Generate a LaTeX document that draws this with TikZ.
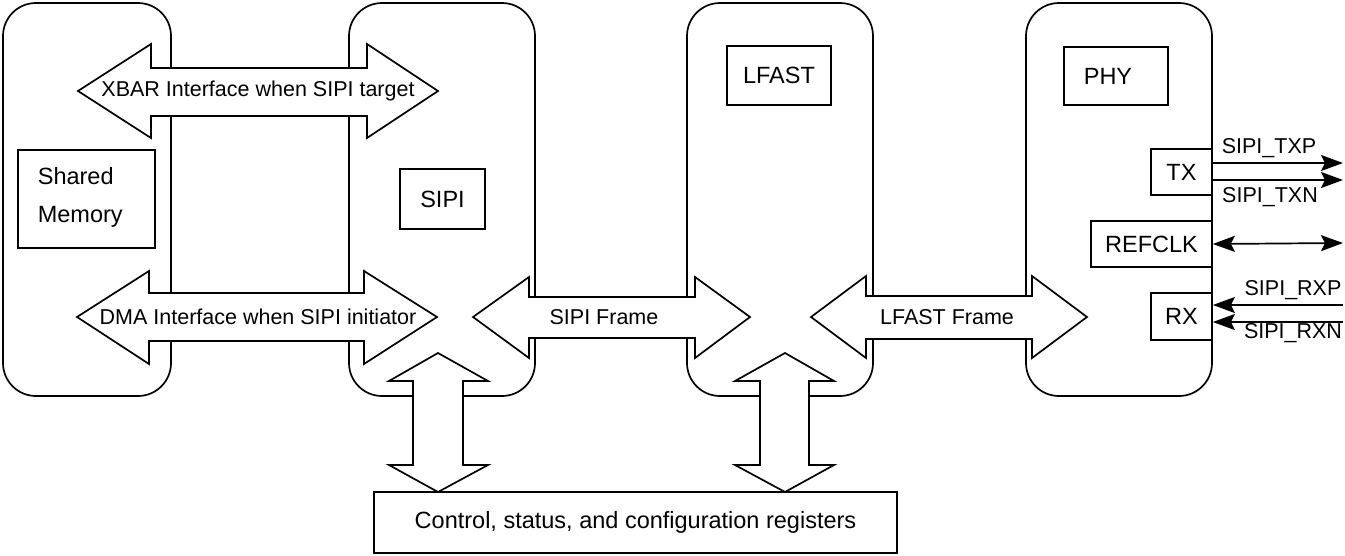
\documentclass[tikz,border=0pt]{standalone}
\usepackage{fontspec}
\setmainfont{Liberation Sans}
\usetikzlibrary{arrows.meta}
\begin{document}
\begin{tikzpicture}[x=1pt,y=-1pt,line width=1.7pt,
  every node/.style={font=\fontsize{21.5}{25}\selectfont, inner sep=0pt},
  big/.style={font=\fontsize{23.5}{28}\selectfont},
  block/.style={draw, rounded corners=33pt, minimum width=186pt, minimum height=393pt},
  lbl/.style={draw, minimum width=#1, big},
  bigarrow/.style={draw, fill=white, line join=miter},
  sig/.style={-{Stealth[length=22pt,width=16pt,inset=4pt]}},
  sigboth/.style={{Stealth[length=22pt,width=16pt,inset=4pt]}-{Stealth[length=22pt,width=16pt,inset=4pt]}}
]
\useasboundingbox (0,0) rectangle (1345,555);
% outer blocks
\node[block, minimum width=168pt] (memblk) at (87,199.5) {};
\node[block] (sipiblk) at (442,199.5) {};
\node[block] (lfastblk) at (780,199.5) {};
\node[block] (phyblk) at (1119,199.5) {};
% inner label boxes
\node[lbl=137pt, minimum height=98pt] (shm) at (86.5,199) {};
\node[anchor=west, align=left, font=\fontsize{23.5}{38}\selectfont] (shmtxt) at (37,197) {Shared\\Memory};
\node[lbl=85pt, minimum height=60pt] (sipi) at (442.5,199) {SIPI};
\node[lbl=104pt, minimum height=59pt] (lfast) at (779,75.5) {LFAST};
\node[lbl=104pt, minimum height=58pt] (phy) at (1116,76) {};
\node[big] (phytxt) at (1108,76) {PHY};
\node[lbl=61pt, minimum height=46pt] (tx) at (1181.5,172) {TX};
\node[lbl=121pt, minimum height=46pt] (refclk) at (1151.5,244) {REFCLK};
\node[lbl=61pt, minimum height=47pt] (rx) at (1181.5,316.5) {RX};
% big double arrows
\draw[bigarrow] (78,91) -- (151,44) -- (151,68) -- (367,68) -- (367,44) -- (438,91) -- (367,138) -- (367,116) -- (151,116) -- (151,138) -- cycle;
\node (xbar) at (258,91) {XBAR Interface when SIPI target};
\draw[bigarrow] (77,317) -- (149,271) -- (149,293) -- (364,293) -- (364,271) -- (437,317) -- (364,364) -- (364,341) -- (149,341) -- (149,364) -- cycle;
\node (dma) at (258,317) {DMA Interface when SIPI initiator};
\draw[bigarrow] (473,317) -- (529,277) -- (529,297) -- (695,297) -- (695,277) -- (750,317) -- (695,358) -- (695,338) -- (529,338) -- (529,358) -- cycle;
\node (sipiframe) at (604,317) {SIPI Frame};
\draw[bigarrow] (811,317) -- (866,276) -- (866,296) -- (1032,296) -- (1032,276) -- (1087,317) -- (1032,358) -- (1032,339) -- (866,339) -- (866,358) -- cycle;
\node (lfastframe) at (947,317) {LFAST Frame};
% vertical control arrows
\draw[bigarrow] (438,353) -- (488,381) -- (463,381) -- (463,465) -- (488,465) -- (438,492) -- (389,465) -- (413,465) -- (413,381) -- (389,381) -- cycle;
\draw[bigarrow] (785,353) -- (834,381) -- (809,381) -- (809,465) -- (834,465) -- (785,492) -- (735,465) -- (760,465) -- (760,381) -- (735,381) -- cycle;
% registers
\node[draw, big, minimum width=523pt, minimum height=61pt] (regs) at (635.5,522.5) {Control, status, and configuration registers};
% signal lines
\coordinate (txpend) at (1343,163);
\coordinate (txnend) at (1343,180);
\coordinate (clkend) at (1343,243);
\coordinate (rxpend) at (1343,305);
\coordinate (rxnend) at (1343,322);
\draw[sig] ([yshift=9pt]tx.east) -- (txpend);
\draw[sig] ([yshift=-8pt]tx.east) -- (txnend);
\draw[sigboth] (refclk.east) -- (clkend);
\draw[sig] (rxpend) -- ([yshift=11.5pt]rx.east);
\draw[sig] (rxnend) -- ([yshift=-5.5pt]rx.east);
\node (ltxp) at (1269,148) {SIPI\_TXP};
\node (ltxn) at (1270,197) {SIPI\_TXN};
\node (lrxp) at (1293,290) {SIPI\_RXP};
\node (lrxn) at (1293,333) {SIPI\_RXN};
\end{tikzpicture}
\end{document}
